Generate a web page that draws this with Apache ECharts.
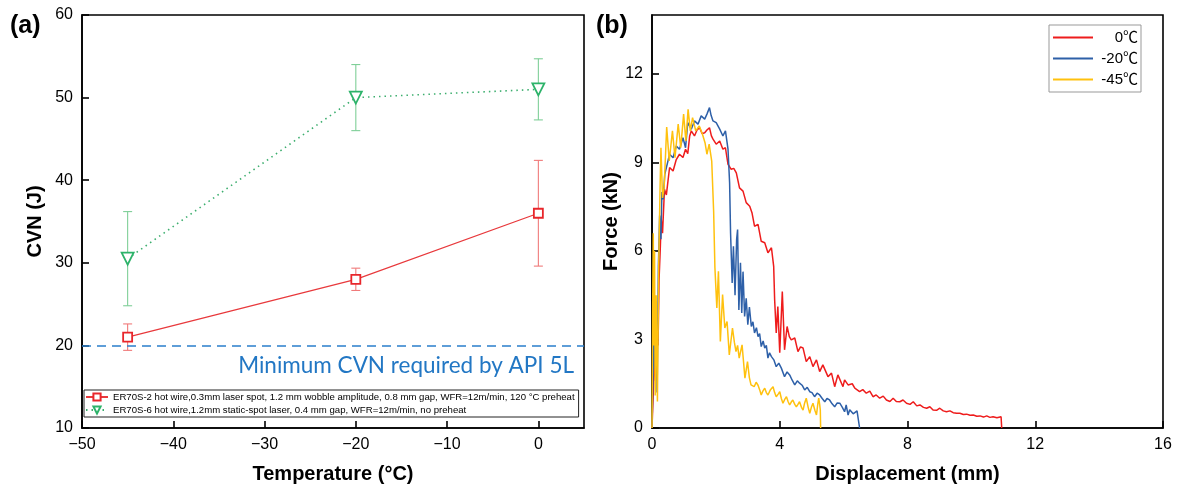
<!DOCTYPE html>
<html>
<head>
<meta charset="utf-8">
<script src="https://cdn.jsdelivr.net/npm/echarts@6/dist/echarts.min.js"></script>
<style>
  html, body { margin: 0; padding: 0; background: #fff; }
  #chart { width: 1182px; height: 493px; }
</style>
</head>
<body>
<div id="chart"></div>
<script>
// (a) Charpy impact energy against test temperature
const temps = [-45, -20, 0];
const cvnWobble = [21, 28, 36];
const cvnWobbleErr = [1.6, 1.35, 6.4];
const cvnStatic = [30.5, 50, 51];
const cvnStaticErr = [5.7, 4.0, 3.7];
const apiMinCvn = 20;
const nameWobble = 'ER70S-2 hot wire,0.3mm laser spot, 1.2 mm wobble amplitude, 0.8 mm gap, WFR=12m/min, 120 °C preheat';
const nameStatic = 'ER70S-6 hot wire,1.2mm static-spot laser, 0.4 mm gap, WFR=12m/min, no preheat';
const apiLabel = 'Minimum CVN required by API 5L';

// (b) force-displacement records, [displacement mm, force kN]
const curve0C = [[0,0],[0.04,1.2],[0.08,2.6],[0.11,1.6],[0.15,3.4],[0.19,2.8],[0.22,5.0],[0.26,6.1],[0.29,7.07],[0.33,6.6],[0.39,8.09],[0.45,7.9],[0.55,8.83],[0.66,8.71],[0.76,9.1],[0.86,9.28],[0.97,9.17],[1.05,9.45],[1.12,9.3],[1.18,9.9],[1.23,10.07],[1.33,9.9],[1.41,10.1],[1.49,10.18],[1.57,9.98],[1.65,10.01],[1.72,10.1],[1.8,10.18],[1.86,9.9],[1.91,9.79],[2.01,9.62],[2.12,9.73],[2.22,9.45],[2.3,9.5],[2.33,9.28],[2.38,8.94],[2.48,8.77],[2.56,8.8],[2.64,8.65],[2.74,8.14],[2.85,8.03],[2.95,7.64],[3.06,7.52],[3.13,7.3],[3.21,6.84],[3.32,6.9],[3.42,6.33],[3.53,6.28],[3.63,5.94],[3.74,6.11],[3.81,5.48],[3.84,4.35],[3.89,3.22],[3.94,4.12],[4.0,2.55],[4.08,4.63],[4.15,2.65],[4.23,3.44],[4.3,3.1],[4.36,2.99],[4.47,3.05],[4.57,2.59],[4.65,2.75],[4.73,2.71],[4.83,2.25],[4.94,2.42],[5.04,2.08],[5.15,2.31],[5.25,1.91],[5.35,2.14],[5.51,1.74],[5.62,1.86],[5.72,1.40],[5.82,1.80],[5.98,1.40],[6.03,1.63],[6.14,1.46],[6.19,1.40],[6.27,1.5],[6.35,1.35],[6.5,1.23],[6.6,1.3],[6.71,1.18],[6.82,1.25],[6.92,1.06],[7.02,1.12],[7.13,1.01],[7.24,1.08],[7.34,0.95],[7.45,0.9],[7.55,1.01],[7.65,0.9],[7.76,0.89],[7.86,0.95],[7.97,0.84],[8.08,0.8],[8.18,0.89],[8.29,0.75],[8.39,0.78],[8.5,0.7],[8.6,0.67],[8.7,0.72],[8.8,0.61],[8.91,0.6],[9.01,0.67],[9.12,0.58],[9.22,0.55],[9.33,0.58],[9.43,0.52],[9.54,0.5],[9.64,0.5],[9.75,0.46],[9.85,0.47],[9.96,0.43],[10.06,0.44],[10.17,0.40],[10.27,0.41],[10.38,0.37],[10.48,0.41],[10.58,0.36],[10.68,0.38],[10.8,0.35],[10.93,0.38],[10.95,0]];
const curveM20C = [[0,0],[0.04,2.2],[0.07,3.8],[0.1,2.0],[0.13,4.2],[0.16,1.2],[0.2,5.5],[0.24,7.2],[0.28,6.4],[0.31,8.0],[0.35,7.75],[0.4,8.6],[0.45,8.54],[0.55,9.28],[0.66,9.16],[0.76,9.56],[0.86,9.45],[0.97,9.84],[1.05,9.5],[1.12,10.35],[1.23,10.13],[1.33,10.41],[1.44,10.3],[1.54,10.58],[1.65,10.47],[1.72,10.64],[1.8,10.86],[1.85,10.6],[1.91,10.41],[2.01,10.35],[2.12,10.13],[2.22,9.9],[2.3,10.07],[2.38,9.45],[2.43,8.31],[2.46,6.61],[2.51,4.92],[2.55,6.16],[2.6,4.5],[2.65,6.4],[2.68,6.73],[2.72,4.0],[2.77,5.6],[2.81,3.9],[2.85,5.3],[2.9,3.78],[2.95,4.4],[3.0,3.5],[3.05,4.1],[3.11,3.44],[3.16,3.6],[3.21,3.22],[3.27,3.4],[3.32,3.1],[3.37,3.2],[3.42,2.76],[3.48,2.95],[3.53,2.71],[3.58,2.8],[3.63,2.37],[3.68,2.55],[3.74,2.42],[3.82,2.3],[3.89,2.08],[3.97,2.2],[4.05,2.03],[4.1,2.05],[4.15,1.74],[4.23,1.9],[4.31,1.8],[4.39,1.62],[4.47,1.46],[4.55,1.6],[4.62,1.52],[4.7,1.45],[4.78,1.29],[4.86,1.38],[4.94,1.23],[5.01,1.2],[5.09,1.06],[5.17,1.18],[5.25,1.12],[5.33,1.0],[5.41,0.89],[5.48,1.0],[5.56,0.95],[5.64,0.82],[5.72,0.72],[5.8,0.85],[5.88,0.84],[5.96,0.7],[6.03,0.55],[6.08,0.78],[6.14,0.44],[6.19,0.62],[6.24,0.6],[6.3,0.48],[6.35,0.5],[6.42,0.58],[6.48,0.55],[6.5,0]];
const curveM45C = [[0,0],[0.02,4.0],[0.04,6.6],[0.06,2.8],[0.08,6.0],[0.1,1.1],[0.13,4.5],[0.17,0.9],[0.21,5.5],[0.25,8.0],[0.28,9.5],[0.33,7.8],[0.38,8.15],[0.46,10.2],[0.54,9.05],[0.64,10.07],[0.72,9.16],[0.82,10.3],[0.9,9.5],[0.99,10.64],[1.06,9.73],[1.13,10.8],[1.2,10.07],[1.27,10.52],[1.37,10.07],[1.48,10.24],[1.58,9.96],[1.66,9.67],[1.72,9.28],[1.79,9.62],[1.87,9.05],[1.93,7.35],[1.97,5.43],[2.03,4.07],[2.08,5.31],[2.14,2.93],[2.21,4.52],[2.28,3.39],[2.35,3.61],[2.42,2.48],[2.52,3.39],[2.58,2.9],[2.63,2.59],[2.68,2.8],[2.73,2.37],[2.82,2.82],[2.91,1.69],[2.99,2.25],[3.05,1.7],[3.1,1.46],[3.2,1.4],[3.26,1.55],[3.32,1.45],[3.37,1.3],[3.42,1.12],[3.47,1.25],[3.53,1.35],[3.58,1.2],[3.63,1.12],[3.71,1.3],[3.79,1.4],[3.84,1.2],[3.89,1.06],[3.95,1.15],[4.0,1.23],[4.05,1.0],[4.1,0.84],[4.16,0.98],[4.21,1.06],[4.26,0.9],[4.31,0.78],[4.36,0.88],[4.41,0.95],[4.47,0.8],[4.52,0.72],[4.57,0.8],[4.62,0.89],[4.68,0.7],[4.73,0.61],[4.78,0.85],[4.83,1.01],[4.89,0.7],[4.94,0.5],[4.99,0.7],[5.04,0.84],[5.1,0.6],[5.15,0.44],[5.19,0.8],[5.22,1.01],[5.25,0.8],[5.27,0.61],[5.28,0]];
const curveNames = ['0℃', '-20℃', '-45℃'];

const minusSign = v => String(v).replace('-', '\u2212');
const baseFont = 'Liberation Sans, Arial, Helvetica, sans-serif';
const axisCommon = {
  axisLine: { show: true, onZero: false, lineStyle: { color: '#000', width: 1.6 } },
  axisTick: { show: true, inside: true, length: 7, lineStyle: { color: '#000', width: 1.6 } },
  axisLabel: { color: '#000', fontSize: 16, fontFamily: baseFont, margin: 9, showMaxLabel: false },
  splitLine: { show: false },
  nameLocation: 'middle',
  nameTextStyle: { color: '#000', fontSize: 20, fontWeight: 'bold', fontFamily: baseFont }
};

function errorBars(xs, ys, errs, color) {
  return {
    type: 'custom',
    xAxisIndex: 0, yAxisIndex: 0,
    data: xs.map((x, i) => [x, ys[i] - errs[i], ys[i] + errs[i]]),
    encode: { x: 0, y: [1, 2] },
    z: 1,
    silent: true,
    renderItem: (params, api) => {
      const lo = api.coord([api.value(0), api.value(1)]);
      const hi = api.coord([api.value(0), api.value(2)]);
      const cap = 4.5;
      const style = { stroke: color, lineWidth: 1.1 };
      return {
        type: 'group',
        children: [
          { type: 'line', shape: { x1: lo[0], y1: lo[1], x2: hi[0], y2: hi[1] }, style },
          { type: 'line', shape: { x1: lo[0] - cap, y1: lo[1], x2: lo[0] + cap, y2: lo[1] }, style },
          { type: 'line', shape: { x1: hi[0] - cap, y1: hi[1], x2: hi[0] + cap, y2: hi[1] }, style }
        ]
      };
    }
  };
}

const chart = echarts.init(document.getElementById('chart'), null, { renderer: 'canvas' });
chart.setOption({
  animation: false,
  backgroundColor: '#fff',
  grid: [
    { left: 82, top: 15, width: 502, height: 413, show: true, borderColor: '#000', borderWidth: 1.6, backgroundColor: 'transparent' },
    { left: 652, top: 15, width: 511, height: 413, show: true, borderColor: '#000', borderWidth: 1.6, backgroundColor: 'transparent' }
  ],
  xAxis: [
    Object.assign({}, axisCommon, {
      gridIndex: 0, type: 'value', min: -50, max: 5, interval: 10,
      name: 'Temperature (°C)', nameGap: 36,
      axisLabel: Object.assign({}, axisCommon.axisLabel, { formatter: minusSign })
    }),
    Object.assign({}, axisCommon, {
      gridIndex: 1, type: 'value', min: 0, max: 16, interval: 4,
      name: 'Displacement (mm)', nameGap: 36,
      axisLabel: Object.assign({}, axisCommon.axisLabel, { showMaxLabel: true })
    })
  ],
  yAxis: [
    Object.assign({}, axisCommon, {
      gridIndex: 0, type: 'value', min: 10, max: 60, interval: 10,
      name: 'CVN (J)', nameGap: 37,
      axisLabel: Object.assign({}, axisCommon.axisLabel, { showMaxLabel: true })
    }),
    Object.assign({}, axisCommon, {
      gridIndex: 1, type: 'value', min: 0, max: 14, interval: 3,
      name: 'Force (kN)', nameGap: 30
    })
  ],
  legend: [
    {
      data: [nameWobble, nameStatic],
      orient: 'vertical', left: 84, top: 390,
      itemWidth: 22, itemHeight: 9, itemGap: 3,
      padding: [2, 4, 2, 1],
      borderColor: '#222', borderWidth: 1,
      textStyle: { fontSize: 9.6, color: '#000', fontFamily: baseFont },
      selectedMode: false
    },
    {
      data: curveNames.map(n => ({ name: n, icon: 'rect' })),
      orient: 'vertical', left: 1049, top: 25,
      itemWidth: 40, itemHeight: 2, itemGap: 6,
      padding: [5, 3, 5, 4],
      borderColor: '#999', borderWidth: 1,
      formatter: n => '{t|' + n + '}',
      textStyle: {
        color: '#000', fontFamily: baseFont,
        rich: { t: { width: 40, height: 16, align: 'right', fontSize: 15, fontFamily: 'Liberation Sans, Noto Sans CJK SC, sans-serif', color: '#000' } }
      },
      selectedMode: false
    }
  ],
  graphic: [
    { type: 'text', left: 10, top: 14, style: { text: '(a)', font: 'bold 25px Liberation Sans, Arial, sans-serif', fill: '#000' } },
    { type: 'text', left: 596, top: 14, style: { text: '(b)', font: 'bold 25px Liberation Sans, Arial, sans-serif', fill: '#000' } }
  ],
  series: [
    errorBars(temps, cvnWobble, cvnWobbleErr, '#f07a7a'),
    errorBars(temps, cvnStatic, cvnStaticErr, '#7fcf98'),
    {
      name: nameWobble, type: 'line', xAxisIndex: 0, yAxisIndex: 0,
      data: temps.map((t, i) => [t, cvnWobble[i]]),
      symbol: 'rect', symbolSize: 9,
      itemStyle: { color: '#fff', borderColor: '#e8262b', borderWidth: 1.8 },
      lineStyle: { color: '#e8393c', width: 1.2 },
      z: 3,
      markLine: {
        silent: true, symbol: 'none',
        lineStyle: { color: '#2a7fcc', width: 1.6, type: [9, 6] },
        label: {
          show: true, position: 'insideEndBottom', distance: [10, 9],
          formatter: apiLabel, color: '#2277c4', fontSize: 22.5, fontFamily: 'Lato, Open Sans, sans-serif'
        },
        data: [{ yAxis: apiMinCvn }]
      }
    },
    {
      name: nameStatic, type: 'line', xAxisIndex: 0, yAxisIndex: 0,
      data: temps.map((t, i) => [t, cvnStatic[i]]),
      symbol: 'triangle', symbolRotate: 180, symbolSize: 12,
      itemStyle: { color: '#fff', borderColor: '#2db36a', borderWidth: 1.8 },
      lineStyle: { color: '#3cae6e', width: 1.6, type: [1.5, 4] },
      z: 3
    },
    {
      name: curveNames[0], type: 'line', xAxisIndex: 1, yAxisIndex: 1,
      data: curve0C, symbol: 'none', color: '#ee1c1c',
      lineStyle: { color: '#ee1c1c', width: 1.5 }, z: 2
    },
    {
      name: curveNames[1], type: 'line', xAxisIndex: 1, yAxisIndex: 1,
      data: curveM20C, symbol: 'none', color: '#2e60a8',
      lineStyle: { color: '#2e60a8', width: 1.5 }, z: 3
    },
    {
      name: curveNames[2], type: 'line', xAxisIndex: 1, yAxisIndex: 1,
      data: curveM45C, symbol: 'none', color: '#ffc10e',
      lineStyle: { color: '#ffc10e', width: 1.5 }, z: 4
    }
  ]
});
</script>
</body>
</html>
